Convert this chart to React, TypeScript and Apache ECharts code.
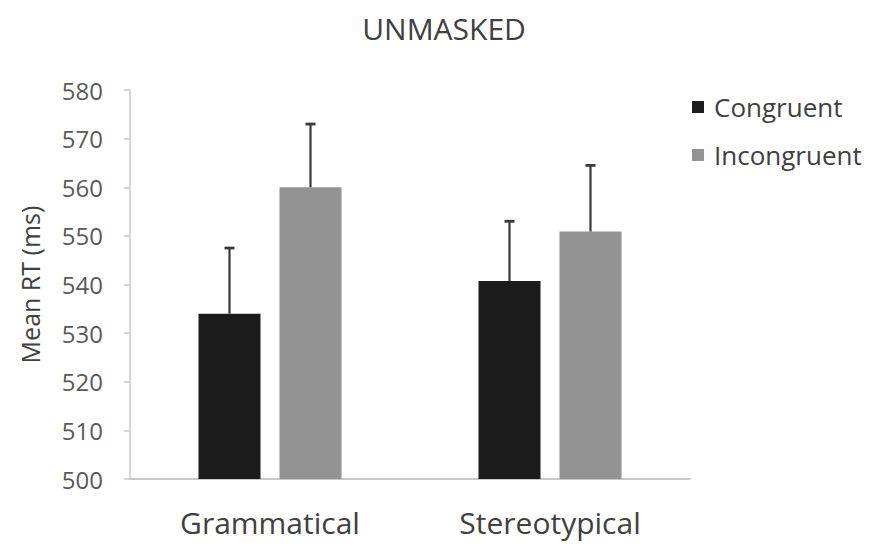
import React, { useEffect, useRef } from "react";
import * as echarts from "echarts";

const categories = ["Grammatical", "Stereotypical"];
const seriesNames = ["Congruent", "Incongruent"];
const congruentMeans = [534, 540.7];
const incongruentMeans = [560, 550.9];
const congruentErrors = [13.5, 12.3];
const incongruentErrors = [13, 13.6];
const yTicks = { min: 500, max: 580, interval: 10 };

const BAR_WIDTH = 62;
const BAR_GAP_PX = 19;
const FONT = "'Open Sans', sans-serif";

export default function App() {
  const ref = useRef<HTMLDivElement>(null);
  useEffect(() => {
    if (!ref.current) return;
    const chart = echarts.init(ref.current, null, { renderer: "svg" });
    const offset = (BAR_WIDTH + BAR_GAP_PX) / 2;
    const makeErr = (means: number[], errs: number[], dx: number, name: string) => ({
      type: "custom",
      name: name + " error",
      silent: true,
      z: 5,
      encode: { x: 0, y: [1, 2] },
      data: means.map((m, i) => [i, m, m + errs[i]]),
      renderItem: (params: any, api: any) => {
        const p0 = api.coord([api.value(0), api.value(1)]);
        const p1 = api.coord([api.value(0), api.value(2)]);
        const x = p0[0] + dx;
        const style = { stroke: "#3a3a3a", lineWidth: 2.2 };
        return {
          type: "group",
          children: [
            { type: "line", shape: { x1: x, y1: p0[1], x2: x, y2: p1[1] }, style },
            { type: "line", shape: { x1: x - 5, y1: p1[1], x2: x + 5, y2: p1[1] }, style: { stroke: "#3a3a3a", lineWidth: 2.8 } },
          ],
        };
      },
    });
    chart.setOption({
      animation: false,
      backgroundColor: "#ffffff",
      title: {
        text: "UNMASKED",
        left: 439,
        textAlign: "center",
        top: 8,
        textStyle: { fontFamily: FONT, fontSize: 30, fontWeight: "normal", color: "#404040" },
      },
      legend: {
        orient: "vertical",
        left: 687,
        top: 89,
        itemWidth: 12,
        itemHeight: 12,
        itemGap: 22,
        icon: "rect",
        data: seriesNames,
        textStyle: { fontFamily: FONT, fontSize: 26, color: "#404040", lineHeight: 26, padding: [0, 0, 0, 5] },
      },
      grid: { left: 130, right: 189, top: 90, bottom: 70, containLabel: false },
      xAxis: {
        type: "category",
        data: categories,
        axisLine: { show: true, lineStyle: { color: "#c8c8c8", width: 2 } },
        axisTick: { show: false },
        axisLabel: { fontFamily: FONT, fontSize: 30, color: "#404040", margin: 28 },
      },
      yAxis: {
        type: "value",
        min: yTicks.min,
        max: yTicks.max,
        interval: yTicks.interval,
        name: "Mean RT (ms)",
        nameLocation: "middle",
        nameGap: 88,
        nameTextStyle: { fontFamily: FONT, fontSize: 25, color: "#404040" },
        axisLine: { show: true, lineStyle: { color: "#c8c8c8", width: 1.5 } },
        axisTick: { show: true, inside: false, length: 6, lineStyle: { color: "#c8c8c8", width: 1.5 } },
        axisLabel: { fontFamily: FONT, fontSize: 24, color: "#595959", margin: 27 },
        splitLine: { show: false },
      },
      series: [
        {
          type: "bar",
          name: seriesNames[0],
          data: congruentMeans,
          barWidth: BAR_WIDTH,
          barGap: (BAR_GAP_PX / BAR_WIDTH) * 100 + "%",
          itemStyle: { color: "#1c1c1c" },
        },
        {
          type: "bar",
          name: seriesNames[1],
          data: incongruentMeans,
          barWidth: BAR_WIDTH,
          itemStyle: { color: "#939393" },
        },
        makeErr(congruentMeans, congruentErrors, -offset, seriesNames[0]),
        makeErr(incongruentMeans, incongruentErrors, offset, seriesNames[1]),
      ],
    });
    return () => chart.dispose();
  }, []);
  return (
    <div
      ref={ref}
      style={{ position: "fixed", left: 0, top: 0, width: 879, height: 549, background: "#fff" }}
    />
  );
}
